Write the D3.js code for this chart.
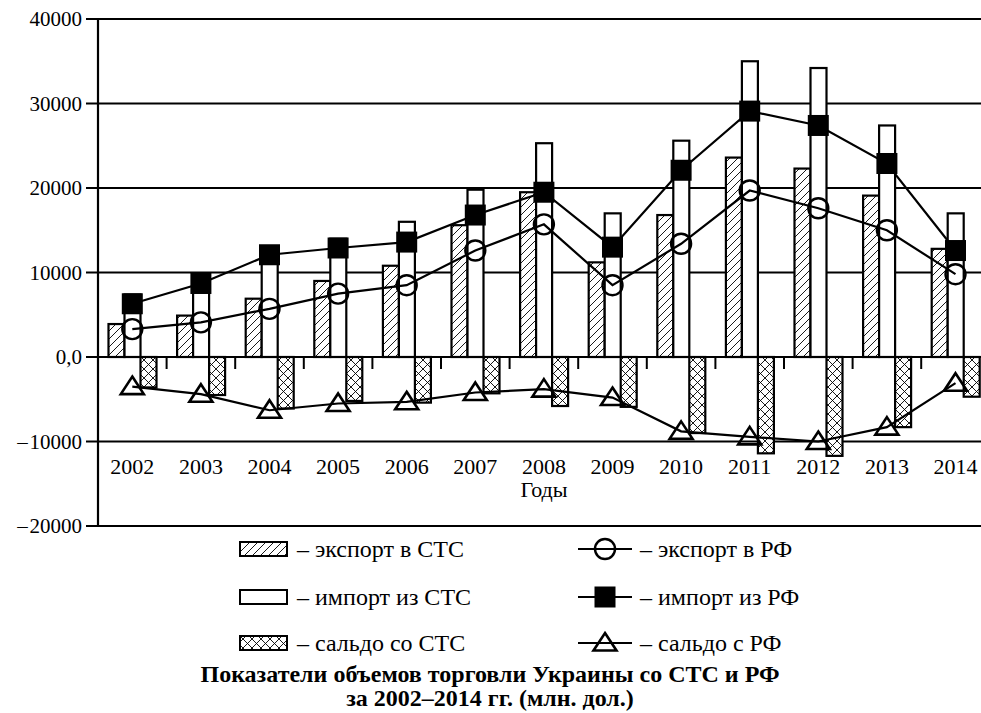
<!DOCTYPE html>
<html><head><meta charset="utf-8">
<script src="https://cdn.jsdelivr.net/npm/d3@7"></script>
<style>body{margin:0;background:#fff}svg{display:block}text{font-family:"Liberation Serif","Times New Roman","DejaVu Serif",serif;fill:#000}</style>
</head><body>
<svg id="c" width="981" height="713" font-family="Liberation Serif, Times New Roman, serif"></svg>
<script>
const years = ["2002","2003","2004","2005","2006","2007","2008","2009","2010","2011","2012","2013","2014"];
const exportSTS = [3900,4900,6900,9000,10800,15600,19500,11200,16800,23600,22300,19100,12800];
const importSTS = [7400,9400,13000,14000,16000,19800,25300,17000,25600,35000,34200,27400,17000];
const saldoSTS  = [-3600,-4500,-6100,-5200,-5400,-4300,-5800,-5900,-9000,-11400,-11700,-8300,-4700];
const exportRF  = [3300,4100,5700,7500,8500,12600,15700,8500,13400,19700,17600,15000,9800];
const importRF  = [6300,8700,12100,12900,13600,16800,19500,13000,22100,29100,27400,22900,12600];
const saldoRF   = [-3500,-4400,-6300,-5500,-5300,-4200,-3800,-4800,-8800,-9450,-10000,-8300,-3100];
const yTicks = [40000,30000,20000,10000,0,-10000,-20000];
const yTickLabels = ["40000","30000","20000","10000","0,0","\u2013\u200A10000","\u2013\u200A20000"];
const legendBars = ["\u2013 экспорт в СТС","\u2013 импорт из СТС","\u2013 сальдо со СТС"];
const legendLines = ["\u2013 экспорт в РФ","\u2013 импорт из РФ","\u2013 сальдо с РФ"];
const titleLines = ["Показатели объемов торговли Украины со СТС и РФ","за 2002\u20132014 гг. (млн. дол.)"];
const xTitle = "Годы";

const svg = d3.select("#c");
const defs = svg.append("defs");
const ph = defs.append("pattern").attr("id","hatch").attr("patternUnits","userSpaceOnUse").attr("width",8).attr("height",8);
ph.append("rect").attr("width",8).attr("height",8).attr("fill","#fff");
ph.append("path").attr("d","M0,8L8,0M-2,2L2,-2M6,10L10,6").attr("stroke","#000").attr("stroke-width",0.9);
const px = defs.append("pattern").attr("id","cross").attr("patternUnits","userSpaceOnUse").attr("width",9).attr("height",9);
px.append("rect").attr("width",9).attr("height",9).attr("fill","#fff");
px.append("path").attr("d","M0,9L9,0M-2,2L2,-2M7,11L11,7M0,0L9,9M-2,7L2,11M7,-2L11,2").attr("stroke","#000").attr("stroke-width",0.9);

const x = d3.scaleBand().domain(years).range([98, 98+13*68.6]).padding(0);
const sub = d3.scaleBand().domain(["e","i","s"]).range([10.5, 58.5]).padding(0);
const y = d3.scaleLinear().domain([-20000,40000]).range([526,19]);
const cx = d => x(d) + x.bandwidth()/2;

// gridlines
svg.append("g").selectAll("line").data(yTicks).join("line")
  .attr("x1",86).attr("x2",981).attr("y1",d=>y(d)).attr("y2",d=>y(d))
  .attr("stroke","#000").attr("stroke-width",2.2);
// y labels
svg.append("g").selectAll("text").data(yTicks).join("text")
  .attr("x",82).attr("y",d=>y(d)).attr("dy","0.35em").attr("text-anchor","end")
  .attr("font-size",21).text((d,i)=>yTickLabels[i]);
// y axis line
svg.append("line").attr("x1",98).attr("x2",98).attr("y1",y(40000)).attr("y2",y(-20000)).attr("stroke","#000").attr("stroke-width",2.2);

function bars(vals, key, fill){
  svg.append("g").selectAll("rect").data(years).join("rect")
    .attr("x",d=>x(d)+sub(key)).attr("width",sub.bandwidth())
    .attr("y",(d,i)=>Math.min(y(vals[i]),y(0))).attr("height",(d,i)=>Math.abs(y(vals[i])-y(0)))
    .attr("fill",fill).attr("stroke","#000").attr("stroke-width",2.2);
}
bars(exportSTS,"e","url(#hatch)");
bars(importSTS,"i","#fff");
bars(saldoSTS,"s","url(#cross)");

// zero line + x ticks
svg.append("line").attr("x1",86).attr("x2",981).attr("y1",y(0)).attr("y2",y(0)).attr("stroke","#000").attr("stroke-width",2.2);
svg.append("g").selectAll("line").data(years.slice(1)).join("line")
  .attr("x1",d=>x(d)).attr("x2",d=>x(d)).attr("y1",y(0)).attr("y2",y(0)+12)
  .attr("stroke","#000").attr("stroke-width",2);

// x labels
svg.append("g").selectAll("text").data(years).join("text")
  .attr("x",d=>cx(d)).attr("y",474).attr("text-anchor","middle").attr("font-size",22).text(d=>d);
svg.append("text").attr("x",544).attr("y",497).attr("text-anchor","middle").attr("font-size",22).text(xTitle);

const line = d3.line().x((v,i)=>cx(years[i])).y(v=>y(v));
function series(vals, marker){
  svg.append("path").datum(vals).attr("d",line).attr("fill","none").attr("stroke","#000").attr("stroke-width",2.2);
  const g = svg.append("g");
  vals.forEach((v,i)=>marker(g, cx(years[i]), y(v)));
}
const circle = (g,X,Y)=>g.append("circle").attr("cx",X).attr("cy",Y).attr("r",10).attr("fill","none").attr("stroke","#000").attr("stroke-width",2.4);
const square = (g,X,Y)=>g.append("rect").attr("x",X-10.5).attr("y",Y-10.5).attr("width",21).attr("height",21).attr("fill","#000");
const tri = (g,X,Y)=>g.append("path").attr("d",`M${X},${Y-10}L${X+11.5},${Y+7.5}L${X-11.5},${Y+7.5}Z`).attr("fill","none").attr("stroke","#000").attr("stroke-width",2.6);
series(exportRF, circle);
series(importRF, square);
series(saldoRF, tri);

// legend
const rowsY = [549,597,643];
const fills = ["url(#hatch)","#fff","url(#cross)"];
rowsY.forEach((ry,i)=>{
  svg.append("rect").attr("x",240).attr("y",ry-7).attr("width",47).attr("height",14).attr("fill",fills[i]).attr("stroke","#000").attr("stroke-width",2);
  svg.append("text").attr("x",297).attr("y",ry).attr("dy","0.35em").attr("font-size",24).text(legendBars[i]);
  svg.append("line").attr("x1",578).attr("x2",632).attr("y1",ry).attr("y2",ry).attr("stroke","#000").attr("stroke-width",2.2);
  const g = svg.append("g");
  [circle,square,tri][i](g,605,ry);
  svg.append("text").attr("x",640).attr("y",ry).attr("dy","0.35em").attr("font-size",24).text(legendLines[i]);
});
titleLines.forEach((t,i)=>{
  svg.append("text").attr("x",490).attr("y",682+i*24).attr("text-anchor","middle").attr("font-size",24).attr("font-weight","bold").text(t);
});
</script>
</body></html>
